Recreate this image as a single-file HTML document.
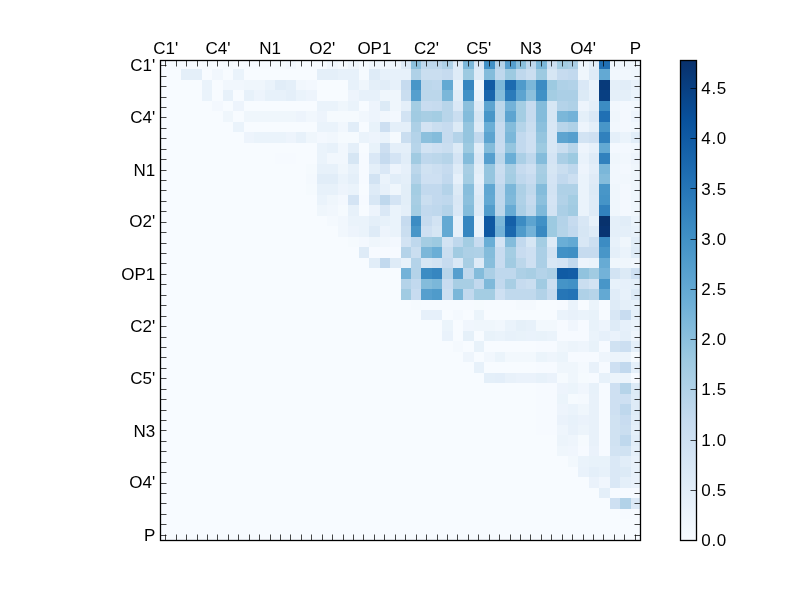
<!DOCTYPE html>
<html><head><meta charset="utf-8"><title>heatmap</title>
<style>
html,body{margin:0;padding:0;background:#fff;}
body{width:800px;height:600px;overflow:hidden;position:relative;font-family:"Liberation Sans",sans-serif;}
svg{position:absolute;left:0;top:0;display:block}
svg text{font-family:"Liberation Sans",sans-serif;font-size:17px;fill:#000}
</style></head><body>
<svg width="800" height="600" viewBox="0 0 800 600">
<defs><linearGradient id="cb" x1="0" y1="1" x2="0" y2="0">
<stop offset="0.0000" stop-color="#f7fbff"/>
<stop offset="0.1250" stop-color="#deebf7"/>
<stop offset="0.2500" stop-color="#c6dbef"/>
<stop offset="0.3750" stop-color="#9ecae1"/>
<stop offset="0.5000" stop-color="#6baed6"/>
<stop offset="0.6250" stop-color="#4292c6"/>
<stop offset="0.7500" stop-color="#2171b5"/>
<stop offset="0.8750" stop-color="#08519c"/>
<stop offset="1.0000" stop-color="#08306b"/>
</linearGradient></defs>
<rect x="0" y="0" width="800" height="600" fill="#ffffff"/>
<g shape-rendering="crispEdges">
<rect x="160" y="60" width="481" height="481" fill="#f7fbff"/>
<rect x="171" y="60" width="10" height="9" fill="#f5fafe"/>
<rect x="181" y="60" width="11" height="9" fill="#f6faff"/>
<rect x="202" y="60" width="10" height="9" fill="#f5fafe"/>
<rect x="223" y="60" width="10" height="9" fill="#f5fafe"/>
<rect x="244" y="60" width="31" height="9" fill="#f6faff"/>
<rect x="275" y="60" width="11" height="9" fill="#f5fafe"/>
<rect x="286" y="60" width="10" height="9" fill="#f3f8fe"/>
<rect x="327" y="60" width="11" height="9" fill="#f1f7fd"/>
<rect x="338" y="60" width="10" height="9" fill="#f5fafe"/>
<rect x="348" y="60" width="11" height="9" fill="#eff6fc"/>
<rect x="359" y="60" width="10" height="9" fill="#f5fafe"/>
<rect x="369" y="60" width="11" height="9" fill="#eff6fc"/>
<rect x="380" y="60" width="10" height="9" fill="#f1f7fd"/>
<rect x="390" y="60" width="11" height="9" fill="#eff6fc"/>
<rect x="401" y="60" width="10" height="9" fill="#deebf7"/>
<rect x="411" y="60" width="10" height="9" fill="#8cc0dd"/>
<rect x="421" y="60" width="21" height="9" fill="#bfd8ed"/>
<rect x="442" y="60" width="11" height="9" fill="#afd1e7"/>
<rect x="453" y="60" width="10" height="9" fill="#deebf7"/>
<rect x="463" y="60" width="11" height="9" fill="#7bb7d9"/>
<rect x="474" y="60" width="10" height="9" fill="#dae8f6"/>
<rect x="484" y="60" width="11" height="9" fill="#4191c6"/>
<rect x="495" y="60" width="10" height="9" fill="#b4d3e9"/>
<rect x="505" y="60" width="11" height="9" fill="#569fce"/>
<rect x="516" y="60" width="10" height="9" fill="#8cc0dd"/>
<rect x="526" y="60" width="10" height="9" fill="#bfd8ed"/>
<rect x="536" y="60" width="11" height="9" fill="#7bb7d9"/>
<rect x="547" y="60" width="10" height="9" fill="#cee0f2"/>
<rect x="557" y="60" width="11" height="9" fill="#a4cde3"/>
<rect x="568" y="60" width="10" height="9" fill="#abcfe6"/>
<rect x="578" y="60" width="11" height="9" fill="#eff6fc"/>
<rect x="589" y="60" width="10" height="9" fill="#e2eef8"/>
<rect x="599" y="60" width="11" height="9" fill="#2070b4"/>
<rect x="610" y="60" width="31" height="9" fill="#eff6fc"/>
<rect x="181" y="69" width="21" height="11" fill="#e4eff9"/>
<rect x="212" y="69" width="11" height="11" fill="#f1f7fd"/>
<rect x="233" y="69" width="11" height="11" fill="#eaf3fb"/>
<rect x="317" y="69" width="21" height="11" fill="#e4eff9"/>
<rect x="338" y="69" width="21" height="11" fill="#e7f1fa"/>
<rect x="359" y="69" width="10" height="11" fill="#f5fafe"/>
<rect x="369" y="69" width="11" height="11" fill="#deebf7"/>
<rect x="380" y="69" width="31" height="11" fill="#e7f1fa"/>
<rect x="411" y="69" width="10" height="11" fill="#afd1e7"/>
<rect x="421" y="69" width="21" height="11" fill="#cadef0"/>
<rect x="442" y="69" width="11" height="11" fill="#c6dbef"/>
<rect x="453" y="69" width="10" height="11" fill="#deebf7"/>
<rect x="463" y="69" width="11" height="11" fill="#9dcae1"/>
<rect x="474" y="69" width="10" height="11" fill="#deebf7"/>
<rect x="484" y="69" width="11" height="11" fill="#84bcdb"/>
<rect x="495" y="69" width="10" height="11" fill="#bfd8ed"/>
<rect x="505" y="69" width="11" height="11" fill="#9dcae1"/>
<rect x="516" y="69" width="10" height="11" fill="#bfd8ed"/>
<rect x="526" y="69" width="10" height="11" fill="#cadef0"/>
<rect x="536" y="69" width="11" height="11" fill="#9dcae1"/>
<rect x="547" y="69" width="10" height="11" fill="#d6e6f4"/>
<rect x="557" y="69" width="11" height="11" fill="#c6dbef"/>
<rect x="568" y="69" width="10" height="11" fill="#c2d9ee"/>
<rect x="578" y="69" width="11" height="11" fill="#eff6fc"/>
<rect x="589" y="69" width="10" height="11" fill="#deebf7"/>
<rect x="599" y="69" width="11" height="11" fill="#63a9d3"/>
<rect x="610" y="69" width="21" height="11" fill="#f1f7fd"/>
<rect x="631" y="69" width="10" height="11" fill="#eff6fc"/>
<rect x="202" y="80" width="10" height="10" fill="#eaf3fb"/>
<rect x="223" y="80" width="21" height="10" fill="#f1f7fd"/>
<rect x="244" y="80" width="21" height="10" fill="#eff6fc"/>
<rect x="265" y="80" width="10" height="10" fill="#eaf3fb"/>
<rect x="275" y="80" width="11" height="10" fill="#e1edf8"/>
<rect x="286" y="80" width="10" height="10" fill="#e4eff9"/>
<rect x="296" y="80" width="10" height="10" fill="#f1f7fd"/>
<rect x="306" y="80" width="11" height="10" fill="#f3f8fe"/>
<rect x="348" y="80" width="11" height="10" fill="#e7f1fa"/>
<rect x="359" y="80" width="10" height="10" fill="#eff6fc"/>
<rect x="369" y="80" width="11" height="10" fill="#e4eff9"/>
<rect x="380" y="80" width="10" height="10" fill="#e1edf8"/>
<rect x="390" y="80" width="11" height="10" fill="#e7f1fa"/>
<rect x="401" y="80" width="10" height="10" fill="#c6dbef"/>
<rect x="411" y="80" width="10" height="10" fill="#4896c8"/>
<rect x="421" y="80" width="11" height="10" fill="#bcd7eb"/>
<rect x="432" y="80" width="10" height="10" fill="#bfd8ed"/>
<rect x="442" y="80" width="11" height="10" fill="#63a9d3"/>
<rect x="453" y="80" width="10" height="10" fill="#e7f1fa"/>
<rect x="463" y="80" width="11" height="10" fill="#3686c0"/>
<rect x="474" y="80" width="10" height="10" fill="#eff6fc"/>
<rect x="484" y="80" width="11" height="10" fill="#105ba4"/>
<rect x="495" y="80" width="10" height="10" fill="#7bb7d9"/>
<rect x="505" y="80" width="11" height="10" fill="#1c6bb0"/>
<rect x="516" y="80" width="10" height="10" fill="#4f9bcb"/>
<rect x="526" y="80" width="10" height="10" fill="#7bb7d9"/>
<rect x="536" y="80" width="11" height="10" fill="#3c8cc3"/>
<rect x="547" y="80" width="10" height="10" fill="#9dcae1"/>
<rect x="557" y="80" width="11" height="10" fill="#afd1e7"/>
<rect x="568" y="80" width="10" height="10" fill="#b2d2e8"/>
<rect x="578" y="80" width="11" height="10" fill="#dae8f6"/>
<rect x="589" y="80" width="10" height="10" fill="#eaf3fb"/>
<rect x="599" y="80" width="11" height="10" fill="#083a7a"/>
<rect x="610" y="80" width="10" height="10" fill="#e4eff9"/>
<rect x="620" y="80" width="11" height="10" fill="#e1edf8"/>
<rect x="631" y="80" width="10" height="10" fill="#e7f1fa"/>
<rect x="202" y="90" width="10" height="11" fill="#eaf3fb"/>
<rect x="223" y="90" width="10" height="11" fill="#e7f1fa"/>
<rect x="244" y="90" width="10" height="11" fill="#e7f1fa"/>
<rect x="254" y="90" width="11" height="11" fill="#edf4fc"/>
<rect x="265" y="90" width="21" height="11" fill="#e7f1fa"/>
<rect x="286" y="90" width="10" height="11" fill="#e4eff9"/>
<rect x="296" y="90" width="10" height="11" fill="#eaf3fb"/>
<rect x="306" y="90" width="11" height="11" fill="#edf4fc"/>
<rect x="348" y="90" width="11" height="11" fill="#edf4fc"/>
<rect x="359" y="90" width="21" height="11" fill="#e7f1fa"/>
<rect x="380" y="90" width="21" height="11" fill="#eff6fc"/>
<rect x="401" y="90" width="10" height="11" fill="#cadef0"/>
<rect x="411" y="90" width="10" height="11" fill="#569fce"/>
<rect x="421" y="90" width="21" height="11" fill="#bcd7eb"/>
<rect x="442" y="90" width="11" height="11" fill="#7bb7d9"/>
<rect x="453" y="90" width="10" height="11" fill="#e1edf8"/>
<rect x="463" y="90" width="11" height="11" fill="#4191c6"/>
<rect x="474" y="90" width="10" height="11" fill="#eaf3fb"/>
<rect x="484" y="90" width="11" height="11" fill="#1865ac"/>
<rect x="495" y="90" width="10" height="11" fill="#84bcdb"/>
<rect x="505" y="90" width="11" height="11" fill="#2b7bba"/>
<rect x="516" y="90" width="10" height="11" fill="#5da4d0"/>
<rect x="526" y="90" width="10" height="11" fill="#8cc0dd"/>
<rect x="536" y="90" width="11" height="11" fill="#4191c6"/>
<rect x="547" y="90" width="10" height="11" fill="#a4cde3"/>
<rect x="557" y="90" width="21" height="11" fill="#abcfe6"/>
<rect x="578" y="90" width="11" height="11" fill="#dceaf6"/>
<rect x="589" y="90" width="10" height="11" fill="#e7f1fa"/>
<rect x="599" y="90" width="11" height="11" fill="#083f82"/>
<rect x="610" y="90" width="21" height="11" fill="#e4eff9"/>
<rect x="631" y="90" width="10" height="11" fill="#eaf3fb"/>
<rect x="212" y="101" width="11" height="10" fill="#f3f8fe"/>
<rect x="233" y="101" width="11" height="10" fill="#edf4fc"/>
<rect x="317" y="101" width="21" height="10" fill="#eaf3fb"/>
<rect x="338" y="101" width="10" height="10" fill="#eff6fc"/>
<rect x="348" y="101" width="11" height="10" fill="#eaf3fb"/>
<rect x="369" y="101" width="11" height="10" fill="#edf4fc"/>
<rect x="380" y="101" width="10" height="10" fill="#dceaf6"/>
<rect x="390" y="101" width="11" height="10" fill="#eff6fc"/>
<rect x="401" y="101" width="10" height="10" fill="#e4eff9"/>
<rect x="411" y="101" width="10" height="10" fill="#a4cde3"/>
<rect x="421" y="101" width="11" height="10" fill="#c8dcf0"/>
<rect x="432" y="101" width="10" height="10" fill="#c6dbef"/>
<rect x="442" y="101" width="11" height="10" fill="#b8d5ea"/>
<rect x="453" y="101" width="10" height="10" fill="#dae8f6"/>
<rect x="463" y="101" width="11" height="10" fill="#8cc0dd"/>
<rect x="474" y="101" width="10" height="10" fill="#deebf7"/>
<rect x="484" y="101" width="11" height="10" fill="#5da4d0"/>
<rect x="495" y="101" width="10" height="10" fill="#bcd7eb"/>
<rect x="505" y="101" width="11" height="10" fill="#73b2d8"/>
<rect x="516" y="101" width="10" height="10" fill="#a4cde3"/>
<rect x="526" y="101" width="10" height="10" fill="#c6dbef"/>
<rect x="536" y="101" width="11" height="10" fill="#84bcdb"/>
<rect x="547" y="101" width="10" height="10" fill="#d6e6f4"/>
<rect x="557" y="101" width="11" height="10" fill="#b4d3e9"/>
<rect x="568" y="101" width="10" height="10" fill="#afd1e7"/>
<rect x="578" y="101" width="11" height="10" fill="#edf4fc"/>
<rect x="589" y="101" width="10" height="10" fill="#e4eff9"/>
<rect x="599" y="101" width="11" height="10" fill="#3c8cc3"/>
<rect x="610" y="101" width="10" height="10" fill="#f1f7fd"/>
<rect x="620" y="101" width="11" height="10" fill="#f3f8fe"/>
<rect x="631" y="101" width="10" height="10" fill="#f1f7fd"/>
<rect x="223" y="111" width="10" height="11" fill="#eff6fc"/>
<rect x="244" y="111" width="52" height="11" fill="#eff6fc"/>
<rect x="296" y="111" width="10" height="11" fill="#edf4fc"/>
<rect x="306" y="111" width="11" height="11" fill="#f1f7fd"/>
<rect x="317" y="111" width="10" height="11" fill="#edf4fc"/>
<rect x="327" y="111" width="32" height="11" fill="#f5fafe"/>
<rect x="359" y="111" width="10" height="11" fill="#f1f7fd"/>
<rect x="369" y="111" width="11" height="11" fill="#edf4fc"/>
<rect x="380" y="111" width="10" height="11" fill="#f1f7fd"/>
<rect x="390" y="111" width="11" height="11" fill="#f3f8fe"/>
<rect x="401" y="111" width="10" height="11" fill="#d2e3f3"/>
<rect x="411" y="111" width="10" height="11" fill="#a1cbe2"/>
<rect x="421" y="111" width="11" height="11" fill="#a8cee4"/>
<rect x="432" y="111" width="10" height="11" fill="#a4cde3"/>
<rect x="442" y="111" width="11" height="11" fill="#b8d5ea"/>
<rect x="453" y="111" width="10" height="11" fill="#cadef0"/>
<rect x="463" y="111" width="11" height="11" fill="#84bcdb"/>
<rect x="474" y="111" width="10" height="11" fill="#d6e6f4"/>
<rect x="484" y="111" width="11" height="11" fill="#4896c8"/>
<rect x="495" y="111" width="10" height="11" fill="#bcd7eb"/>
<rect x="505" y="111" width="11" height="11" fill="#5da4d0"/>
<rect x="516" y="111" width="10" height="11" fill="#a4cde3"/>
<rect x="526" y="111" width="10" height="11" fill="#c6dbef"/>
<rect x="536" y="111" width="11" height="11" fill="#84bcdb"/>
<rect x="547" y="111" width="10" height="11" fill="#d6e6f4"/>
<rect x="557" y="111" width="11" height="11" fill="#7bb7d9"/>
<rect x="568" y="111" width="10" height="11" fill="#73b2d8"/>
<rect x="578" y="111" width="11" height="11" fill="#e4eff9"/>
<rect x="589" y="111" width="10" height="11" fill="#dae8f6"/>
<rect x="599" y="111" width="11" height="11" fill="#2070b4"/>
<rect x="610" y="111" width="10" height="11" fill="#eff6fc"/>
<rect x="620" y="111" width="11" height="11" fill="#f3f8fe"/>
<rect x="631" y="111" width="10" height="11" fill="#edf4fc"/>
<rect x="233" y="122" width="11" height="10" fill="#eaf3fb"/>
<rect x="317" y="122" width="21" height="10" fill="#eaf3fb"/>
<rect x="338" y="122" width="10" height="10" fill="#f1f7fd"/>
<rect x="348" y="122" width="11" height="10" fill="#e1edf8"/>
<rect x="369" y="122" width="11" height="10" fill="#e8f2fa"/>
<rect x="380" y="122" width="10" height="10" fill="#cddff1"/>
<rect x="390" y="122" width="21" height="10" fill="#e4eff9"/>
<rect x="411" y="122" width="10" height="10" fill="#add0e6"/>
<rect x="421" y="122" width="11" height="10" fill="#d3e3f3"/>
<rect x="432" y="122" width="10" height="10" fill="#cadef0"/>
<rect x="442" y="122" width="11" height="10" fill="#c6dbef"/>
<rect x="453" y="122" width="10" height="10" fill="#dceaf6"/>
<rect x="463" y="122" width="11" height="10" fill="#95c5df"/>
<rect x="474" y="122" width="10" height="10" fill="#deebf7"/>
<rect x="484" y="122" width="11" height="10" fill="#6aaed6"/>
<rect x="495" y="122" width="10" height="10" fill="#c6dbef"/>
<rect x="505" y="122" width="11" height="10" fill="#84bcdb"/>
<rect x="516" y="122" width="10" height="10" fill="#b5d4e9"/>
<rect x="526" y="122" width="10" height="10" fill="#cadef0"/>
<rect x="536" y="122" width="11" height="10" fill="#8cc0dd"/>
<rect x="547" y="122" width="10" height="10" fill="#d8e7f5"/>
<rect x="557" y="122" width="11" height="10" fill="#b8d5ea"/>
<rect x="568" y="122" width="10" height="10" fill="#afd1e7"/>
<rect x="578" y="122" width="11" height="10" fill="#edf4fc"/>
<rect x="589" y="122" width="10" height="10" fill="#e4eff9"/>
<rect x="599" y="122" width="11" height="10" fill="#4896c8"/>
<rect x="610" y="122" width="10" height="10" fill="#f1f7fd"/>
<rect x="620" y="122" width="11" height="10" fill="#f3f8fe"/>
<rect x="631" y="122" width="10" height="10" fill="#f1f7fd"/>
<rect x="244" y="132" width="10" height="11" fill="#edf4fc"/>
<rect x="254" y="132" width="32" height="11" fill="#eaf3fb"/>
<rect x="286" y="132" width="10" height="11" fill="#edf4fc"/>
<rect x="296" y="132" width="10" height="11" fill="#e7f1fa"/>
<rect x="306" y="132" width="11" height="11" fill="#eff6fc"/>
<rect x="317" y="132" width="10" height="11" fill="#f3f8fe"/>
<rect x="327" y="132" width="11" height="11" fill="#f1f7fd"/>
<rect x="338" y="132" width="21" height="11" fill="#f5fafe"/>
<rect x="359" y="132" width="10" height="11" fill="#eaf3fb"/>
<rect x="369" y="132" width="11" height="11" fill="#edf4fc"/>
<rect x="380" y="132" width="10" height="11" fill="#eaf3fb"/>
<rect x="390" y="132" width="11" height="11" fill="#f5fafe"/>
<rect x="401" y="132" width="10" height="11" fill="#cadef0"/>
<rect x="411" y="132" width="10" height="11" fill="#b4d3e9"/>
<rect x="421" y="132" width="11" height="11" fill="#8cc0dd"/>
<rect x="432" y="132" width="10" height="11" fill="#84bcdb"/>
<rect x="442" y="132" width="11" height="11" fill="#c6dbef"/>
<rect x="453" y="132" width="10" height="11" fill="#b4d3e9"/>
<rect x="463" y="132" width="11" height="11" fill="#95c5df"/>
<rect x="474" y="132" width="10" height="11" fill="#c2d9ee"/>
<rect x="484" y="132" width="11" height="11" fill="#5da4d0"/>
<rect x="495" y="132" width="10" height="11" fill="#c6dbef"/>
<rect x="505" y="132" width="11" height="11" fill="#7bb7d9"/>
<rect x="516" y="132" width="10" height="11" fill="#c2d9ee"/>
<rect x="526" y="132" width="10" height="11" fill="#cee0f2"/>
<rect x="536" y="132" width="11" height="11" fill="#95c5df"/>
<rect x="547" y="132" width="10" height="11" fill="#d8e7f5"/>
<rect x="557" y="132" width="11" height="11" fill="#5da4d0"/>
<rect x="568" y="132" width="10" height="11" fill="#569fce"/>
<rect x="578" y="132" width="11" height="11" fill="#d2e3f3"/>
<rect x="589" y="132" width="10" height="11" fill="#cee0f2"/>
<rect x="599" y="132" width="11" height="11" fill="#3181bd"/>
<rect x="610" y="132" width="10" height="11" fill="#e4eff9"/>
<rect x="620" y="132" width="11" height="11" fill="#eaf3fb"/>
<rect x="631" y="132" width="10" height="11" fill="#e1edf8"/>
<rect x="317" y="143" width="10" height="10" fill="#eaf3fb"/>
<rect x="327" y="143" width="11" height="10" fill="#e7f1fa"/>
<rect x="338" y="143" width="10" height="10" fill="#f1f7fd"/>
<rect x="348" y="143" width="11" height="10" fill="#e4eff9"/>
<rect x="369" y="143" width="11" height="10" fill="#e8f2fa"/>
<rect x="380" y="143" width="10" height="10" fill="#cddff1"/>
<rect x="390" y="143" width="21" height="10" fill="#e4eff9"/>
<rect x="411" y="143" width="10" height="10" fill="#b7d5ea"/>
<rect x="421" y="143" width="11" height="10" fill="#d2e3f3"/>
<rect x="432" y="143" width="10" height="10" fill="#cee0f2"/>
<rect x="442" y="143" width="11" height="10" fill="#cadef0"/>
<rect x="453" y="143" width="10" height="10" fill="#dceaf6"/>
<rect x="463" y="143" width="11" height="10" fill="#9dcae1"/>
<rect x="474" y="143" width="10" height="10" fill="#e1edf8"/>
<rect x="484" y="143" width="11" height="10" fill="#84bcdb"/>
<rect x="495" y="143" width="10" height="10" fill="#c8dcf0"/>
<rect x="505" y="143" width="11" height="10" fill="#95c5df"/>
<rect x="516" y="143" width="10" height="10" fill="#c2d9ee"/>
<rect x="526" y="143" width="10" height="10" fill="#cee0f2"/>
<rect x="536" y="143" width="11" height="10" fill="#9dcae1"/>
<rect x="547" y="143" width="10" height="10" fill="#d8e7f5"/>
<rect x="557" y="143" width="11" height="10" fill="#cadef0"/>
<rect x="568" y="143" width="10" height="10" fill="#b8d5ea"/>
<rect x="578" y="143" width="11" height="10" fill="#edf4fc"/>
<rect x="589" y="143" width="10" height="10" fill="#e6f0fa"/>
<rect x="599" y="143" width="11" height="10" fill="#63a9d3"/>
<rect x="610" y="143" width="21" height="10" fill="#f3f8fe"/>
<rect x="631" y="143" width="10" height="10" fill="#f1f7fd"/>
<rect x="275" y="153" width="21" height="11" fill="#f6faff"/>
<rect x="317" y="153" width="10" height="11" fill="#eaf3fb"/>
<rect x="327" y="153" width="21" height="11" fill="#f1f7fd"/>
<rect x="348" y="153" width="11" height="11" fill="#d6e6f4"/>
<rect x="359" y="153" width="10" height="11" fill="#f6faff"/>
<rect x="369" y="153" width="11" height="11" fill="#dae8f6"/>
<rect x="380" y="153" width="10" height="11" fill="#c6dbef"/>
<rect x="390" y="153" width="11" height="11" fill="#d4e4f4"/>
<rect x="401" y="153" width="10" height="11" fill="#e1edf8"/>
<rect x="411" y="153" width="10" height="11" fill="#a1cbe2"/>
<rect x="421" y="153" width="11" height="11" fill="#bfd8ed"/>
<rect x="432" y="153" width="10" height="11" fill="#bcd7eb"/>
<rect x="442" y="153" width="11" height="11" fill="#b6d4e9"/>
<rect x="453" y="153" width="10" height="11" fill="#d4e4f4"/>
<rect x="463" y="153" width="11" height="11" fill="#84bcdb"/>
<rect x="474" y="153" width="10" height="11" fill="#dae8f6"/>
<rect x="484" y="153" width="11" height="11" fill="#569fce"/>
<rect x="495" y="153" width="10" height="11" fill="#bcd7eb"/>
<rect x="505" y="153" width="11" height="11" fill="#6aaed6"/>
<rect x="516" y="153" width="10" height="11" fill="#abcfe6"/>
<rect x="526" y="153" width="10" height="11" fill="#bfd8ed"/>
<rect x="536" y="153" width="11" height="11" fill="#84bcdb"/>
<rect x="547" y="153" width="10" height="11" fill="#d4e4f4"/>
<rect x="557" y="153" width="11" height="11" fill="#abcfe6"/>
<rect x="568" y="153" width="10" height="11" fill="#9dcae1"/>
<rect x="578" y="153" width="11" height="11" fill="#e9f2fb"/>
<rect x="589" y="153" width="10" height="11" fill="#deebf7"/>
<rect x="599" y="153" width="11" height="11" fill="#3181bd"/>
<rect x="610" y="153" width="10" height="11" fill="#eff6fc"/>
<rect x="620" y="153" width="11" height="11" fill="#f1f7fd"/>
<rect x="631" y="153" width="10" height="11" fill="#edf4fc"/>
<rect x="306" y="164" width="11" height="10" fill="#f5fafe"/>
<rect x="317" y="164" width="21" height="10" fill="#e7f1fa"/>
<rect x="338" y="164" width="10" height="10" fill="#eff6fc"/>
<rect x="348" y="164" width="11" height="10" fill="#e7f1fa"/>
<rect x="359" y="164" width="10" height="10" fill="#f6faff"/>
<rect x="369" y="164" width="11" height="10" fill="#e4eff9"/>
<rect x="380" y="164" width="10" height="10" fill="#dae8f6"/>
<rect x="390" y="164" width="11" height="10" fill="#edf4fc"/>
<rect x="401" y="164" width="10" height="10" fill="#e6f0fa"/>
<rect x="411" y="164" width="10" height="10" fill="#bcd7eb"/>
<rect x="421" y="164" width="11" height="10" fill="#d0e2f2"/>
<rect x="432" y="164" width="10" height="10" fill="#ccdff1"/>
<rect x="442" y="164" width="11" height="10" fill="#c6dbef"/>
<rect x="453" y="164" width="10" height="10" fill="#deebf7"/>
<rect x="463" y="164" width="11" height="10" fill="#a8cee4"/>
<rect x="474" y="164" width="10" height="10" fill="#e2eef8"/>
<rect x="484" y="164" width="11" height="10" fill="#95c5df"/>
<rect x="495" y="164" width="10" height="10" fill="#cadef0"/>
<rect x="505" y="164" width="11" height="10" fill="#a8cee4"/>
<rect x="516" y="164" width="10" height="10" fill="#c6dbef"/>
<rect x="526" y="164" width="10" height="10" fill="#cee0f2"/>
<rect x="536" y="164" width="11" height="10" fill="#a8cee4"/>
<rect x="547" y="164" width="10" height="10" fill="#d6e6f4"/>
<rect x="557" y="164" width="11" height="10" fill="#cadef0"/>
<rect x="568" y="164" width="10" height="10" fill="#bfd8ed"/>
<rect x="578" y="164" width="11" height="10" fill="#edf4fc"/>
<rect x="589" y="164" width="10" height="10" fill="#e3eef9"/>
<rect x="599" y="164" width="11" height="10" fill="#7bb7d9"/>
<rect x="610" y="164" width="10" height="10" fill="#f1f7fd"/>
<rect x="620" y="164" width="11" height="10" fill="#f3f8fe"/>
<rect x="631" y="164" width="10" height="10" fill="#eff6fc"/>
<rect x="306" y="174" width="11" height="10" fill="#f4f9fe"/>
<rect x="317" y="174" width="21" height="10" fill="#e1edf8"/>
<rect x="338" y="174" width="10" height="10" fill="#eaf3fb"/>
<rect x="348" y="174" width="11" height="10" fill="#e4eff9"/>
<rect x="359" y="174" width="10" height="10" fill="#f6faff"/>
<rect x="369" y="174" width="11" height="10" fill="#d2e3f3"/>
<rect x="380" y="174" width="10" height="10" fill="#eaf3fb"/>
<rect x="390" y="174" width="11" height="10" fill="#e1edf8"/>
<rect x="401" y="174" width="10" height="10" fill="#e4eff9"/>
<rect x="411" y="174" width="10" height="10" fill="#b4d3e9"/>
<rect x="421" y="174" width="21" height="10" fill="#cee0f2"/>
<rect x="442" y="174" width="11" height="10" fill="#c2d9ee"/>
<rect x="453" y="174" width="10" height="10" fill="#e6f0fa"/>
<rect x="463" y="174" width="11" height="10" fill="#a4cde3"/>
<rect x="474" y="174" width="10" height="10" fill="#e6f0fa"/>
<rect x="484" y="174" width="11" height="10" fill="#95c5df"/>
<rect x="495" y="174" width="10" height="10" fill="#c8dcf0"/>
<rect x="505" y="174" width="11" height="10" fill="#a4cde3"/>
<rect x="516" y="174" width="10" height="10" fill="#bfd8ed"/>
<rect x="526" y="174" width="10" height="10" fill="#c8dcf0"/>
<rect x="536" y="174" width="11" height="10" fill="#a4cde3"/>
<rect x="547" y="174" width="10" height="10" fill="#d4e4f4"/>
<rect x="557" y="174" width="11" height="10" fill="#c2d9ee"/>
<rect x="568" y="174" width="10" height="10" fill="#ccdff1"/>
<rect x="578" y="174" width="11" height="10" fill="#eaf3fb"/>
<rect x="589" y="174" width="10" height="10" fill="#dfebf7"/>
<rect x="599" y="174" width="11" height="10" fill="#84bcdb"/>
<rect x="610" y="174" width="21" height="10" fill="#f1f7fd"/>
<rect x="631" y="174" width="10" height="10" fill="#eff6fc"/>
<rect x="306" y="184" width="11" height="11" fill="#f5fafe"/>
<rect x="317" y="184" width="21" height="11" fill="#e7f1fa"/>
<rect x="338" y="184" width="10" height="11" fill="#edf4fc"/>
<rect x="348" y="184" width="11" height="11" fill="#eaf3fb"/>
<rect x="369" y="184" width="11" height="11" fill="#deebf7"/>
<rect x="380" y="184" width="10" height="11" fill="#e7f1fa"/>
<rect x="390" y="184" width="11" height="11" fill="#eff6fc"/>
<rect x="401" y="184" width="10" height="11" fill="#e2eef8"/>
<rect x="411" y="184" width="10" height="11" fill="#a4cde3"/>
<rect x="421" y="184" width="21" height="11" fill="#c2d9ee"/>
<rect x="442" y="184" width="11" height="11" fill="#b4d3e9"/>
<rect x="453" y="184" width="10" height="11" fill="#dceaf6"/>
<rect x="463" y="184" width="11" height="11" fill="#88bedc"/>
<rect x="474" y="184" width="10" height="11" fill="#e0ecf8"/>
<rect x="484" y="184" width="11" height="11" fill="#60a7d2"/>
<rect x="495" y="184" width="10" height="11" fill="#bfd8ed"/>
<rect x="505" y="184" width="11" height="11" fill="#7bb7d9"/>
<rect x="516" y="184" width="10" height="11" fill="#add0e6"/>
<rect x="526" y="184" width="10" height="11" fill="#c0d9ed"/>
<rect x="536" y="184" width="11" height="11" fill="#84bcdb"/>
<rect x="547" y="184" width="10" height="11" fill="#d2e3f3"/>
<rect x="557" y="184" width="21" height="11" fill="#afd1e7"/>
<rect x="578" y="184" width="11" height="11" fill="#eaf3fb"/>
<rect x="589" y="184" width="10" height="11" fill="#dceaf6"/>
<rect x="599" y="184" width="11" height="11" fill="#4896c8"/>
<rect x="610" y="184" width="10" height="11" fill="#eff6fc"/>
<rect x="620" y="184" width="11" height="11" fill="#f3f8fe"/>
<rect x="631" y="184" width="10" height="11" fill="#eff6fc"/>
<rect x="317" y="195" width="10" height="10" fill="#eaf3fb"/>
<rect x="327" y="195" width="11" height="10" fill="#eff6fc"/>
<rect x="338" y="195" width="10" height="10" fill="#f3f8fe"/>
<rect x="348" y="195" width="11" height="10" fill="#d4e4f4"/>
<rect x="359" y="195" width="10" height="10" fill="#f6faff"/>
<rect x="369" y="195" width="11" height="10" fill="#d8e7f5"/>
<rect x="380" y="195" width="10" height="10" fill="#bfd8ed"/>
<rect x="390" y="195" width="11" height="10" fill="#d4e4f4"/>
<rect x="401" y="195" width="10" height="10" fill="#e2eef8"/>
<rect x="411" y="195" width="10" height="10" fill="#a8cee4"/>
<rect x="421" y="195" width="11" height="10" fill="#cadef0"/>
<rect x="432" y="195" width="10" height="10" fill="#c2d9ee"/>
<rect x="442" y="195" width="11" height="10" fill="#bfd8ed"/>
<rect x="453" y="195" width="10" height="10" fill="#d8e7f5"/>
<rect x="463" y="195" width="11" height="10" fill="#8cc0dd"/>
<rect x="474" y="195" width="10" height="10" fill="#dceaf6"/>
<rect x="484" y="195" width="11" height="10" fill="#63a9d3"/>
<rect x="495" y="195" width="10" height="10" fill="#bfd8ed"/>
<rect x="505" y="195" width="11" height="10" fill="#7fb9da"/>
<rect x="516" y="195" width="10" height="10" fill="#afd1e7"/>
<rect x="526" y="195" width="10" height="10" fill="#c6dbef"/>
<rect x="536" y="195" width="11" height="10" fill="#8cc0dd"/>
<rect x="547" y="195" width="10" height="10" fill="#d4e4f4"/>
<rect x="557" y="195" width="11" height="10" fill="#b2d2e8"/>
<rect x="568" y="195" width="10" height="10" fill="#a4cde3"/>
<rect x="578" y="195" width="11" height="10" fill="#eaf3fb"/>
<rect x="589" y="195" width="10" height="10" fill="#deebf7"/>
<rect x="599" y="195" width="11" height="10" fill="#4594c7"/>
<rect x="610" y="195" width="10" height="10" fill="#eff6fc"/>
<rect x="620" y="195" width="11" height="10" fill="#f3f8fe"/>
<rect x="631" y="195" width="10" height="10" fill="#eff6fc"/>
<rect x="317" y="205" width="10" height="11" fill="#eff6fc"/>
<rect x="327" y="205" width="11" height="11" fill="#f1f7fd"/>
<rect x="338" y="205" width="10" height="11" fill="#f5fafe"/>
<rect x="348" y="205" width="11" height="11" fill="#e7f1fa"/>
<rect x="369" y="205" width="11" height="11" fill="#edf4fc"/>
<rect x="380" y="205" width="10" height="11" fill="#dae8f6"/>
<rect x="390" y="205" width="11" height="11" fill="#eaf3fb"/>
<rect x="401" y="205" width="10" height="11" fill="#e4eff9"/>
<rect x="411" y="205" width="10" height="11" fill="#a4cde3"/>
<rect x="421" y="205" width="11" height="11" fill="#c2d9ee"/>
<rect x="432" y="205" width="10" height="11" fill="#bfd8ed"/>
<rect x="442" y="205" width="11" height="11" fill="#b4d3e9"/>
<rect x="453" y="205" width="10" height="11" fill="#dae8f6"/>
<rect x="463" y="205" width="11" height="11" fill="#84bcdb"/>
<rect x="474" y="205" width="10" height="11" fill="#deebf7"/>
<rect x="484" y="205" width="11" height="11" fill="#529dcc"/>
<rect x="495" y="205" width="10" height="11" fill="#bcd7eb"/>
<rect x="505" y="205" width="11" height="11" fill="#67abd4"/>
<rect x="516" y="205" width="10" height="11" fill="#abcfe6"/>
<rect x="526" y="205" width="10" height="11" fill="#c0d9ed"/>
<rect x="536" y="205" width="11" height="11" fill="#7fb9da"/>
<rect x="547" y="205" width="10" height="11" fill="#d2e3f3"/>
<rect x="557" y="205" width="11" height="11" fill="#abcfe6"/>
<rect x="568" y="205" width="10" height="11" fill="#a1cbe2"/>
<rect x="578" y="205" width="11" height="11" fill="#eaf3fb"/>
<rect x="589" y="205" width="10" height="11" fill="#deebf7"/>
<rect x="599" y="205" width="11" height="11" fill="#3181bd"/>
<rect x="610" y="205" width="10" height="11" fill="#eff6fc"/>
<rect x="620" y="205" width="11" height="11" fill="#f3f8fe"/>
<rect x="631" y="205" width="10" height="11" fill="#eff6fc"/>
<rect x="327" y="216" width="11" height="10" fill="#f4f9fe"/>
<rect x="338" y="216" width="10" height="10" fill="#f1f7fd"/>
<rect x="348" y="216" width="21" height="10" fill="#eaf3fb"/>
<rect x="369" y="216" width="11" height="10" fill="#e4eff9"/>
<rect x="380" y="216" width="10" height="10" fill="#e7f1fa"/>
<rect x="390" y="216" width="11" height="10" fill="#eaf3fb"/>
<rect x="401" y="216" width="10" height="10" fill="#c6dbef"/>
<rect x="411" y="216" width="10" height="10" fill="#3c8cc3"/>
<rect x="421" y="216" width="11" height="10" fill="#c6dbef"/>
<rect x="432" y="216" width="10" height="10" fill="#d2e3f3"/>
<rect x="442" y="216" width="11" height="10" fill="#63a9d3"/>
<rect x="453" y="216" width="10" height="10" fill="#e6f0fa"/>
<rect x="463" y="216" width="11" height="10" fill="#3686c0"/>
<rect x="474" y="216" width="10" height="10" fill="#eaf3fb"/>
<rect x="484" y="216" width="11" height="10" fill="#0e58a2"/>
<rect x="495" y="216" width="10" height="10" fill="#7bb7d9"/>
<rect x="505" y="216" width="11" height="10" fill="#1460a8"/>
<rect x="516" y="216" width="10" height="10" fill="#3c8cc3"/>
<rect x="526" y="216" width="10" height="10" fill="#5da4d0"/>
<rect x="536" y="216" width="11" height="10" fill="#4191c6"/>
<rect x="547" y="216" width="10" height="10" fill="#9dcae1"/>
<rect x="557" y="216" width="11" height="10" fill="#b4d3e9"/>
<rect x="568" y="216" width="10" height="10" fill="#c6dbef"/>
<rect x="578" y="216" width="11" height="10" fill="#d8e7f5"/>
<rect x="589" y="216" width="10" height="10" fill="#e7f1fa"/>
<rect x="599" y="216" width="11" height="10" fill="#08326d"/>
<rect x="610" y="216" width="10" height="10" fill="#e4eff9"/>
<rect x="620" y="216" width="11" height="10" fill="#e1edf8"/>
<rect x="631" y="216" width="10" height="10" fill="#eaf3fb"/>
<rect x="338" y="226" width="10" height="11" fill="#f1f7fd"/>
<rect x="348" y="226" width="11" height="11" fill="#edf4fc"/>
<rect x="359" y="226" width="10" height="11" fill="#eaf3fb"/>
<rect x="369" y="226" width="11" height="11" fill="#deebf7"/>
<rect x="380" y="226" width="10" height="11" fill="#edf4fc"/>
<rect x="390" y="226" width="11" height="11" fill="#eaf3fb"/>
<rect x="401" y="226" width="10" height="11" fill="#cadef0"/>
<rect x="411" y="226" width="10" height="11" fill="#4896c8"/>
<rect x="421" y="226" width="11" height="11" fill="#cee0f2"/>
<rect x="432" y="226" width="10" height="11" fill="#d6e6f4"/>
<rect x="442" y="226" width="11" height="11" fill="#63a9d3"/>
<rect x="453" y="226" width="10" height="11" fill="#e6f0fa"/>
<rect x="463" y="226" width="11" height="11" fill="#3686c0"/>
<rect x="474" y="226" width="10" height="11" fill="#eaf3fb"/>
<rect x="484" y="226" width="11" height="11" fill="#0e58a2"/>
<rect x="495" y="226" width="10" height="11" fill="#73b2d8"/>
<rect x="505" y="226" width="11" height="11" fill="#1a68ae"/>
<rect x="516" y="226" width="10" height="11" fill="#4f9bcb"/>
<rect x="526" y="226" width="10" height="11" fill="#73b2d8"/>
<rect x="536" y="226" width="11" height="11" fill="#3989c1"/>
<rect x="547" y="226" width="10" height="11" fill="#9dcae1"/>
<rect x="557" y="226" width="11" height="11" fill="#b5d4e9"/>
<rect x="568" y="226" width="10" height="11" fill="#c2d9ee"/>
<rect x="578" y="226" width="11" height="11" fill="#d6e6f4"/>
<rect x="589" y="226" width="10" height="11" fill="#deebf7"/>
<rect x="599" y="226" width="11" height="11" fill="#083472"/>
<rect x="610" y="226" width="21" height="11" fill="#e4eff9"/>
<rect x="631" y="226" width="10" height="11" fill="#e7f1fa"/>
<rect x="348" y="237" width="11" height="10" fill="#f5fafe"/>
<rect x="359" y="237" width="10" height="10" fill="#f3f8fe"/>
<rect x="369" y="237" width="11" height="10" fill="#eff6fc"/>
<rect x="380" y="237" width="10" height="10" fill="#f1f7fd"/>
<rect x="390" y="237" width="11" height="10" fill="#f3f8fe"/>
<rect x="401" y="237" width="10" height="10" fill="#d2e3f3"/>
<rect x="411" y="237" width="10" height="10" fill="#bfd8ed"/>
<rect x="421" y="237" width="11" height="10" fill="#a4cde3"/>
<rect x="432" y="237" width="10" height="10" fill="#9dcae1"/>
<rect x="442" y="237" width="11" height="10" fill="#d2e3f3"/>
<rect x="453" y="237" width="10" height="10" fill="#bfd8ed"/>
<rect x="463" y="237" width="11" height="10" fill="#a4cde3"/>
<rect x="474" y="237" width="10" height="10" fill="#c8dcf0"/>
<rect x="484" y="237" width="11" height="10" fill="#6aaed6"/>
<rect x="495" y="237" width="10" height="10" fill="#d4e4f4"/>
<rect x="505" y="237" width="11" height="10" fill="#84bcdb"/>
<rect x="516" y="237" width="10" height="10" fill="#c2d9ee"/>
<rect x="526" y="237" width="10" height="10" fill="#d6e6f4"/>
<rect x="536" y="237" width="11" height="10" fill="#a4cde3"/>
<rect x="547" y="237" width="10" height="10" fill="#deebf7"/>
<rect x="557" y="237" width="11" height="10" fill="#6aaed6"/>
<rect x="568" y="237" width="10" height="10" fill="#63a9d3"/>
<rect x="578" y="237" width="11" height="10" fill="#d8e7f5"/>
<rect x="589" y="237" width="10" height="10" fill="#ccdff1"/>
<rect x="599" y="237" width="11" height="10" fill="#3c8cc3"/>
<rect x="610" y="237" width="10" height="10" fill="#e7f1fa"/>
<rect x="620" y="237" width="11" height="10" fill="#eff6fc"/>
<rect x="631" y="237" width="10" height="10" fill="#e1edf8"/>
<rect x="359" y="247" width="10" height="11" fill="#deebf7"/>
<rect x="369" y="247" width="32" height="11" fill="#f6faff"/>
<rect x="401" y="247" width="10" height="11" fill="#b4d3e9"/>
<rect x="411" y="247" width="10" height="11" fill="#cadef0"/>
<rect x="421" y="247" width="11" height="11" fill="#7bb7d9"/>
<rect x="432" y="247" width="10" height="11" fill="#6aaed6"/>
<rect x="442" y="247" width="11" height="11" fill="#cadef0"/>
<rect x="453" y="247" width="10" height="11" fill="#a1cbe2"/>
<rect x="463" y="247" width="11" height="11" fill="#add0e6"/>
<rect x="474" y="247" width="10" height="11" fill="#afd1e7"/>
<rect x="484" y="247" width="11" height="11" fill="#84bcdb"/>
<rect x="495" y="247" width="10" height="11" fill="#c8dcf0"/>
<rect x="505" y="247" width="11" height="11" fill="#a4cde3"/>
<rect x="516" y="247" width="10" height="11" fill="#c8dcf0"/>
<rect x="526" y="247" width="10" height="11" fill="#cee0f2"/>
<rect x="536" y="247" width="11" height="11" fill="#abcfe6"/>
<rect x="547" y="247" width="10" height="11" fill="#d2e3f3"/>
<rect x="557" y="247" width="11" height="11" fill="#4191c6"/>
<rect x="568" y="247" width="10" height="11" fill="#3f8fc4"/>
<rect x="578" y="247" width="21" height="11" fill="#c6dbef"/>
<rect x="599" y="247" width="11" height="11" fill="#4896c8"/>
<rect x="610" y="247" width="10" height="11" fill="#e4eff9"/>
<rect x="620" y="247" width="11" height="11" fill="#eaf3fb"/>
<rect x="631" y="247" width="10" height="11" fill="#deebf7"/>
<rect x="369" y="258" width="11" height="10" fill="#e1edf8"/>
<rect x="380" y="258" width="10" height="10" fill="#c2d9ee"/>
<rect x="390" y="258" width="11" height="10" fill="#deebf7"/>
<rect x="401" y="258" width="10" height="10" fill="#e7f1fa"/>
<rect x="411" y="258" width="10" height="10" fill="#b4d3e9"/>
<rect x="421" y="258" width="11" height="10" fill="#d6e6f4"/>
<rect x="432" y="258" width="10" height="10" fill="#d2e3f3"/>
<rect x="442" y="258" width="11" height="10" fill="#c6dbef"/>
<rect x="453" y="258" width="10" height="10" fill="#dae8f6"/>
<rect x="463" y="258" width="11" height="10" fill="#a8cee4"/>
<rect x="474" y="258" width="10" height="10" fill="#deebf7"/>
<rect x="484" y="258" width="11" height="10" fill="#88bedc"/>
<rect x="495" y="258" width="10" height="10" fill="#c8dcf0"/>
<rect x="505" y="258" width="11" height="10" fill="#a1cbe2"/>
<rect x="516" y="258" width="10" height="10" fill="#bcd7eb"/>
<rect x="526" y="258" width="10" height="10" fill="#cee0f2"/>
<rect x="536" y="258" width="11" height="10" fill="#abcfe6"/>
<rect x="547" y="258" width="10" height="10" fill="#d8e7f5"/>
<rect x="557" y="258" width="11" height="10" fill="#d4e4f4"/>
<rect x="568" y="258" width="10" height="10" fill="#c2d9ee"/>
<rect x="578" y="258" width="11" height="10" fill="#edf4fc"/>
<rect x="589" y="258" width="10" height="10" fill="#eaf3fb"/>
<rect x="599" y="258" width="11" height="10" fill="#67abd4"/>
<rect x="610" y="258" width="21" height="10" fill="#eff6fc"/>
<rect x="631" y="258" width="10" height="10" fill="#f1f7fd"/>
<rect x="401" y="268" width="10" height="11" fill="#73b2d8"/>
<rect x="411" y="268" width="10" height="11" fill="#b4d3e9"/>
<rect x="421" y="268" width="11" height="11" fill="#3c8cc3"/>
<rect x="432" y="268" width="10" height="11" fill="#3686c0"/>
<rect x="442" y="268" width="11" height="11" fill="#b8d5ea"/>
<rect x="453" y="268" width="10" height="11" fill="#569fce"/>
<rect x="463" y="268" width="11" height="11" fill="#bfd8ed"/>
<rect x="474" y="268" width="10" height="11" fill="#84bcdb"/>
<rect x="484" y="268" width="11" height="11" fill="#abcfe6"/>
<rect x="495" y="268" width="21" height="11" fill="#bfd8ed"/>
<rect x="516" y="268" width="10" height="11" fill="#add0e6"/>
<rect x="526" y="268" width="10" height="11" fill="#a8cee4"/>
<rect x="536" y="268" width="11" height="11" fill="#b4d3e9"/>
<rect x="547" y="268" width="10" height="11" fill="#add0e6"/>
<rect x="557" y="268" width="11" height="11" fill="#105ba4"/>
<rect x="568" y="268" width="10" height="11" fill="#125da6"/>
<rect x="578" y="268" width="11" height="11" fill="#91c3de"/>
<rect x="589" y="268" width="10" height="11" fill="#a1cbe2"/>
<rect x="599" y="268" width="11" height="11" fill="#73b2d8"/>
<rect x="610" y="268" width="10" height="11" fill="#d2e3f3"/>
<rect x="620" y="268" width="11" height="11" fill="#dceaf6"/>
<rect x="631" y="268" width="10" height="11" fill="#cee0f2"/>
<rect x="401" y="279" width="10" height="10" fill="#b4d3e9"/>
<rect x="411" y="279" width="10" height="10" fill="#c2d9ee"/>
<rect x="421" y="279" width="11" height="10" fill="#84bcdb"/>
<rect x="432" y="279" width="10" height="10" fill="#7bb7d9"/>
<rect x="442" y="279" width="11" height="10" fill="#c8dcf0"/>
<rect x="453" y="279" width="21" height="10" fill="#a8cee4"/>
<rect x="474" y="279" width="10" height="10" fill="#c2d9ee"/>
<rect x="484" y="279" width="11" height="10" fill="#7fb9da"/>
<rect x="495" y="279" width="10" height="10" fill="#c2d9ee"/>
<rect x="505" y="279" width="11" height="10" fill="#a8cee4"/>
<rect x="516" y="279" width="10" height="10" fill="#c6dbef"/>
<rect x="526" y="279" width="10" height="10" fill="#cadef0"/>
<rect x="536" y="279" width="11" height="10" fill="#a1cbe2"/>
<rect x="547" y="279" width="10" height="10" fill="#ccdff1"/>
<rect x="557" y="279" width="11" height="10" fill="#4594c7"/>
<rect x="568" y="279" width="10" height="10" fill="#4191c6"/>
<rect x="578" y="279" width="11" height="10" fill="#cadef0"/>
<rect x="589" y="279" width="10" height="10" fill="#d2e3f3"/>
<rect x="599" y="279" width="11" height="10" fill="#4896c8"/>
<rect x="610" y="279" width="10" height="10" fill="#e7f1fa"/>
<rect x="620" y="279" width="11" height="10" fill="#e6f0fa"/>
<rect x="631" y="279" width="10" height="10" fill="#e4eff9"/>
<rect x="401" y="289" width="10" height="11" fill="#a1cbe2"/>
<rect x="411" y="289" width="10" height="11" fill="#c8dcf0"/>
<rect x="421" y="289" width="11" height="11" fill="#569fce"/>
<rect x="432" y="289" width="10" height="11" fill="#4f9bcb"/>
<rect x="442" y="289" width="11" height="11" fill="#ccdff1"/>
<rect x="453" y="289" width="10" height="11" fill="#7bb7d9"/>
<rect x="463" y="289" width="11" height="11" fill="#c2d9ee"/>
<rect x="474" y="289" width="21" height="11" fill="#a4cde3"/>
<rect x="495" y="289" width="10" height="11" fill="#cee0f2"/>
<rect x="505" y="289" width="31" height="11" fill="#c0d9ed"/>
<rect x="536" y="289" width="11" height="11" fill="#b2d2e8"/>
<rect x="547" y="289" width="10" height="11" fill="#c6dbef"/>
<rect x="557" y="289" width="11" height="11" fill="#2676b7"/>
<rect x="568" y="289" width="10" height="11" fill="#2373b6"/>
<rect x="578" y="289" width="11" height="11" fill="#afd1e7"/>
<rect x="589" y="289" width="10" height="11" fill="#b6d4e9"/>
<rect x="599" y="289" width="11" height="11" fill="#63a9d3"/>
<rect x="610" y="289" width="10" height="11" fill="#e0ecf8"/>
<rect x="620" y="289" width="11" height="11" fill="#e7f1fa"/>
<rect x="631" y="289" width="10" height="11" fill="#dceaf6"/>
<rect x="411" y="300" width="10" height="10" fill="#f5fafe"/>
<rect x="421" y="300" width="53" height="10" fill="#f6faff"/>
<rect x="474" y="300" width="10" height="10" fill="#f5fafe"/>
<rect x="484" y="300" width="32" height="10" fill="#f6faff"/>
<rect x="516" y="300" width="20" height="10" fill="#f4f9fe"/>
<rect x="557" y="300" width="11" height="10" fill="#f6faff"/>
<rect x="568" y="300" width="10" height="10" fill="#eaf3fb"/>
<rect x="589" y="300" width="10" height="10" fill="#ebf4fb"/>
<rect x="599" y="300" width="11" height="10" fill="#f6faff"/>
<rect x="610" y="300" width="10" height="10" fill="#deebf7"/>
<rect x="620" y="300" width="11" height="10" fill="#e4eff9"/>
<rect x="631" y="300" width="10" height="10" fill="#e7f1fa"/>
<rect x="421" y="310" width="21" height="10" fill="#e6f0fa"/>
<rect x="453" y="310" width="10" height="10" fill="#f4f9fe"/>
<rect x="474" y="310" width="10" height="10" fill="#ebf4fb"/>
<rect x="557" y="310" width="11" height="10" fill="#eaf3fb"/>
<rect x="568" y="310" width="10" height="10" fill="#e8f1fa"/>
<rect x="578" y="310" width="11" height="10" fill="#eaf3fb"/>
<rect x="589" y="310" width="10" height="10" fill="#e8f2fa"/>
<rect x="599" y="310" width="11" height="10" fill="#f6faff"/>
<rect x="610" y="310" width="10" height="10" fill="#d8e7f5"/>
<rect x="620" y="310" width="11" height="10" fill="#c8dcf0"/>
<rect x="631" y="310" width="10" height="10" fill="#e4eff9"/>
<rect x="442" y="320" width="11" height="11" fill="#ebf4fb"/>
<rect x="463" y="320" width="11" height="11" fill="#f0f6fd"/>
<rect x="474" y="320" width="21" height="11" fill="#eff6fc"/>
<rect x="495" y="320" width="10" height="11" fill="#f1f7fd"/>
<rect x="505" y="320" width="11" height="11" fill="#eaf3fb"/>
<rect x="516" y="320" width="10" height="11" fill="#e5f0f9"/>
<rect x="526" y="320" width="10" height="11" fill="#e7f1fa"/>
<rect x="536" y="320" width="21" height="11" fill="#f2f8fd"/>
<rect x="557" y="320" width="11" height="11" fill="#f6faff"/>
<rect x="568" y="320" width="10" height="11" fill="#f0f6fd"/>
<rect x="578" y="320" width="11" height="11" fill="#f6faff"/>
<rect x="589" y="320" width="10" height="11" fill="#e8f2fa"/>
<rect x="599" y="320" width="11" height="11" fill="#edf4fc"/>
<rect x="610" y="320" width="10" height="11" fill="#deebf7"/>
<rect x="620" y="320" width="11" height="11" fill="#e6f0fa"/>
<rect x="631" y="320" width="10" height="11" fill="#eaf3fb"/>
<rect x="442" y="331" width="11" height="10" fill="#e9f2fb"/>
<rect x="463" y="331" width="11" height="10" fill="#e5f0f9"/>
<rect x="484" y="331" width="11" height="10" fill="#e8f2fa"/>
<rect x="495" y="331" width="10" height="10" fill="#eaf3fb"/>
<rect x="505" y="331" width="11" height="10" fill="#e7f1fa"/>
<rect x="516" y="331" width="10" height="10" fill="#e8f2fa"/>
<rect x="526" y="331" width="10" height="10" fill="#e9f2fb"/>
<rect x="536" y="331" width="11" height="10" fill="#e8f2fa"/>
<rect x="547" y="331" width="10" height="10" fill="#eaf3fb"/>
<rect x="557" y="331" width="32" height="10" fill="#f6faff"/>
<rect x="589" y="331" width="10" height="10" fill="#eaf3fb"/>
<rect x="599" y="331" width="11" height="10" fill="#e6f0fa"/>
<rect x="610" y="331" width="10" height="10" fill="#eaf2fb"/>
<rect x="620" y="331" width="11" height="10" fill="#e4eff9"/>
<rect x="631" y="331" width="10" height="10" fill="#eef5fc"/>
<rect x="453" y="341" width="10" height="11" fill="#f4f9fe"/>
<rect x="474" y="341" width="10" height="11" fill="#e8f2fa"/>
<rect x="536" y="341" width="21" height="11" fill="#f6faff"/>
<rect x="557" y="341" width="11" height="11" fill="#eff6fc"/>
<rect x="568" y="341" width="10" height="11" fill="#ecf4fb"/>
<rect x="578" y="341" width="11" height="11" fill="#eef5fc"/>
<rect x="589" y="341" width="10" height="11" fill="#e8f2fa"/>
<rect x="599" y="341" width="11" height="11" fill="#f6faff"/>
<rect x="610" y="341" width="10" height="11" fill="#d0e2f2"/>
<rect x="620" y="341" width="11" height="11" fill="#ccdff1"/>
<rect x="631" y="341" width="10" height="11" fill="#e4eff9"/>
<rect x="463" y="352" width="11" height="10" fill="#eef5fc"/>
<rect x="484" y="352" width="11" height="10" fill="#f1f7fd"/>
<rect x="495" y="352" width="10" height="10" fill="#ebf4fb"/>
<rect x="505" y="352" width="31" height="10" fill="#f2f8fd"/>
<rect x="536" y="352" width="11" height="10" fill="#ebf4fb"/>
<rect x="547" y="352" width="10" height="10" fill="#eef5fc"/>
<rect x="557" y="352" width="11" height="10" fill="#ebf4fb"/>
<rect x="568" y="352" width="31" height="10" fill="#f6faff"/>
<rect x="599" y="352" width="11" height="10" fill="#eef5fc"/>
<rect x="610" y="352" width="21" height="10" fill="#ecf4fb"/>
<rect x="631" y="352" width="10" height="10" fill="#f5fafe"/>
<rect x="474" y="362" width="10" height="11" fill="#e7f1fa"/>
<rect x="536" y="362" width="21" height="11" fill="#f6faff"/>
<rect x="557" y="362" width="21" height="11" fill="#eff6fc"/>
<rect x="578" y="362" width="11" height="11" fill="#f4f9fe"/>
<rect x="589" y="362" width="10" height="11" fill="#e8f1fa"/>
<rect x="599" y="362" width="11" height="11" fill="#f6faff"/>
<rect x="610" y="362" width="10" height="11" fill="#cee0f2"/>
<rect x="620" y="362" width="11" height="11" fill="#c2d9ee"/>
<rect x="631" y="362" width="10" height="11" fill="#e4eff9"/>
<rect x="484" y="373" width="11" height="10" fill="#e4eff9"/>
<rect x="495" y="373" width="10" height="10" fill="#e3eef9"/>
<rect x="505" y="373" width="11" height="10" fill="#e8f1fa"/>
<rect x="516" y="373" width="20" height="10" fill="#eaf2fb"/>
<rect x="536" y="373" width="11" height="10" fill="#e7f1fa"/>
<rect x="547" y="373" width="10" height="10" fill="#eaf2fb"/>
<rect x="557" y="373" width="11" height="10" fill="#f5fafe"/>
<rect x="568" y="373" width="10" height="10" fill="#eff6fc"/>
<rect x="578" y="373" width="11" height="10" fill="#f5fafe"/>
<rect x="589" y="373" width="10" height="10" fill="#f6faff"/>
<rect x="599" y="373" width="11" height="10" fill="#e7f1fa"/>
<rect x="610" y="373" width="21" height="10" fill="#ecf4fb"/>
<rect x="631" y="373" width="10" height="10" fill="#f6faff"/>
<rect x="536" y="383" width="21" height="11" fill="#f6faff"/>
<rect x="557" y="383" width="11" height="11" fill="#edf4fc"/>
<rect x="568" y="383" width="10" height="11" fill="#ebf4fb"/>
<rect x="578" y="383" width="11" height="11" fill="#f0f6fd"/>
<rect x="589" y="383" width="10" height="11" fill="#e7f1fa"/>
<rect x="599" y="383" width="11" height="11" fill="#f6faff"/>
<rect x="610" y="383" width="10" height="11" fill="#cee0f2"/>
<rect x="620" y="383" width="11" height="11" fill="#b6d4e9"/>
<rect x="631" y="383" width="10" height="11" fill="#dceaf6"/>
<rect x="536" y="394" width="21" height="10" fill="#f6faff"/>
<rect x="557" y="394" width="11" height="10" fill="#ebf4fb"/>
<rect x="568" y="394" width="10" height="10" fill="#f5fafe"/>
<rect x="578" y="394" width="11" height="10" fill="#f4f9fe"/>
<rect x="589" y="394" width="10" height="10" fill="#e8f1fa"/>
<rect x="599" y="394" width="11" height="10" fill="#f6faff"/>
<rect x="610" y="394" width="21" height="10" fill="#cee0f2"/>
<rect x="631" y="394" width="10" height="10" fill="#deebf7"/>
<rect x="536" y="404" width="21" height="11" fill="#f6faff"/>
<rect x="557" y="404" width="11" height="11" fill="#edf4fc"/>
<rect x="568" y="404" width="10" height="11" fill="#eaf3fb"/>
<rect x="578" y="404" width="11" height="11" fill="#eff6fc"/>
<rect x="589" y="404" width="10" height="11" fill="#e8f1fa"/>
<rect x="599" y="404" width="11" height="11" fill="#f6faff"/>
<rect x="610" y="404" width="10" height="11" fill="#cee0f2"/>
<rect x="620" y="404" width="11" height="11" fill="#bfd8ed"/>
<rect x="631" y="404" width="10" height="11" fill="#deebf7"/>
<rect x="536" y="415" width="21" height="10" fill="#f6faff"/>
<rect x="557" y="415" width="11" height="10" fill="#eaf2fb"/>
<rect x="568" y="415" width="10" height="10" fill="#e7f1fa"/>
<rect x="578" y="415" width="11" height="10" fill="#eaf2fb"/>
<rect x="589" y="415" width="10" height="10" fill="#e8f1fa"/>
<rect x="599" y="415" width="11" height="10" fill="#f6faff"/>
<rect x="610" y="415" width="10" height="10" fill="#d0e2f2"/>
<rect x="620" y="415" width="11" height="10" fill="#c8dcf0"/>
<rect x="631" y="415" width="10" height="10" fill="#e1edf8"/>
<rect x="536" y="425" width="21" height="10" fill="#f6faff"/>
<rect x="557" y="425" width="11" height="10" fill="#eef5fc"/>
<rect x="568" y="425" width="10" height="10" fill="#e8f1fa"/>
<rect x="578" y="425" width="11" height="10" fill="#ecf4fb"/>
<rect x="589" y="425" width="10" height="10" fill="#e8f1fa"/>
<rect x="599" y="425" width="11" height="10" fill="#f6faff"/>
<rect x="610" y="425" width="10" height="10" fill="#d0e2f2"/>
<rect x="620" y="425" width="11" height="10" fill="#cadef0"/>
<rect x="631" y="425" width="10" height="10" fill="#e4eff9"/>
<rect x="557" y="435" width="11" height="11" fill="#ecf4fb"/>
<rect x="568" y="435" width="10" height="11" fill="#eef5fc"/>
<rect x="578" y="435" width="11" height="11" fill="#f5fafe"/>
<rect x="589" y="435" width="10" height="11" fill="#e8f1fa"/>
<rect x="599" y="435" width="11" height="11" fill="#f6faff"/>
<rect x="610" y="435" width="10" height="11" fill="#d0e2f2"/>
<rect x="620" y="435" width="11" height="11" fill="#bfd8ed"/>
<rect x="631" y="435" width="10" height="11" fill="#e1edf8"/>
<rect x="557" y="446" width="11" height="10" fill="#eff6fc"/>
<rect x="568" y="446" width="10" height="10" fill="#f0f6fd"/>
<rect x="578" y="446" width="11" height="10" fill="#f6faff"/>
<rect x="589" y="446" width="10" height="10" fill="#eaf2fb"/>
<rect x="599" y="446" width="11" height="10" fill="#f6faff"/>
<rect x="610" y="446" width="10" height="10" fill="#d2e3f3"/>
<rect x="620" y="446" width="11" height="10" fill="#d0e2f2"/>
<rect x="631" y="446" width="10" height="10" fill="#e4eff9"/>
<rect x="568" y="456" width="10" height="11" fill="#f2f8fd"/>
<rect x="578" y="456" width="11" height="11" fill="#eaf3fb"/>
<rect x="589" y="456" width="21" height="11" fill="#e8f2fa"/>
<rect x="610" y="456" width="10" height="11" fill="#dae8f6"/>
<rect x="620" y="456" width="11" height="11" fill="#e1edf8"/>
<rect x="631" y="456" width="10" height="11" fill="#e8f1fa"/>
<rect x="578" y="467" width="11" height="10" fill="#e9f2fb"/>
<rect x="589" y="467" width="10" height="10" fill="#e4eff9"/>
<rect x="599" y="467" width="11" height="10" fill="#e7f1fa"/>
<rect x="610" y="467" width="10" height="10" fill="#dae8f6"/>
<rect x="620" y="467" width="11" height="10" fill="#dceaf6"/>
<rect x="631" y="467" width="10" height="10" fill="#e7f1fa"/>
<rect x="589" y="477" width="10" height="11" fill="#eaf2fb"/>
<rect x="599" y="477" width="11" height="11" fill="#f0f6fd"/>
<rect x="610" y="477" width="10" height="11" fill="#dae8f6"/>
<rect x="620" y="477" width="11" height="11" fill="#e4eff9"/>
<rect x="631" y="477" width="10" height="11" fill="#e8f1fa"/>
<rect x="599" y="488" width="11" height="10" fill="#e4eff9"/>
<rect x="610" y="488" width="31" height="10" fill="#f6faff"/>
<rect x="610" y="498" width="10" height="11" fill="#cee0f2"/>
<rect x="620" y="498" width="11" height="11" fill="#b2d2e8"/>
<rect x="631" y="498" width="10" height="11" fill="#dae8f6"/>
<rect x="620" y="509" width="21" height="10" fill="#f6faff"/>
</g>
<path d="M165.5 60.50 v6.00 M165.5 540.50 v-6.00 M160.50 65.5 h6.00 M640.50 65.5 h-6.00 M176.5 60.50 v6.00 M176.5 540.50 v-6.00 M160.50 76.5 h6.00 M640.50 76.5 h-6.00 M186.5 60.50 v6.00 M186.5 540.50 v-6.00 M160.50 86.5 h6.00 M640.50 86.5 h-6.00 M197.5 60.50 v6.00 M197.5 540.50 v-6.00 M160.50 97.5 h6.00 M640.50 97.5 h-6.00 M207.5 60.50 v6.00 M207.5 540.50 v-6.00 M160.50 107.5 h6.00 M640.50 107.5 h-6.00 M217.5 60.50 v6.00 M217.5 540.50 v-6.00 M160.50 117.5 h6.00 M640.50 117.5 h-6.00 M228.5 60.50 v6.00 M228.5 540.50 v-6.00 M160.50 128.5 h6.00 M640.50 128.5 h-6.00 M238.5 60.50 v6.00 M238.5 540.50 v-6.00 M160.50 138.5 h6.00 M640.50 138.5 h-6.00 M249.5 60.50 v6.00 M249.5 540.50 v-6.00 M160.50 149.5 h6.00 M640.50 149.5 h-6.00 M259.5 60.50 v6.00 M259.5 540.50 v-6.00 M160.50 159.5 h6.00 M640.50 159.5 h-6.00 M270.5 60.50 v6.00 M270.5 540.50 v-6.00 M160.50 170.5 h6.00 M640.50 170.5 h-6.00 M280.5 60.50 v6.00 M280.5 540.50 v-6.00 M160.50 180.5 h6.00 M640.50 180.5 h-6.00 M290.5 60.50 v6.00 M290.5 540.50 v-6.00 M160.50 190.5 h6.00 M640.50 190.5 h-6.00 M301.5 60.50 v6.00 M301.5 540.50 v-6.00 M160.50 201.5 h6.00 M640.50 201.5 h-6.00 M311.5 60.50 v6.00 M311.5 540.50 v-6.00 M160.50 211.5 h6.00 M640.50 211.5 h-6.00 M322.5 60.50 v6.00 M322.5 540.50 v-6.00 M160.50 222.5 h6.00 M640.50 222.5 h-6.00 M332.5 60.50 v6.00 M332.5 540.50 v-6.00 M160.50 232.5 h6.00 M640.50 232.5 h-6.00 M343.5 60.50 v6.00 M343.5 540.50 v-6.00 M160.50 243.5 h6.00 M640.50 243.5 h-6.00 M353.5 60.50 v6.00 M353.5 540.50 v-6.00 M160.50 253.5 h6.00 M640.50 253.5 h-6.00 M363.5 60.50 v6.00 M363.5 540.50 v-6.00 M160.50 263.5 h6.00 M640.50 263.5 h-6.00 M374.5 60.50 v6.00 M374.5 540.50 v-6.00 M160.50 274.5 h6.00 M640.50 274.5 h-6.00 M384.5 60.50 v6.00 M384.5 540.50 v-6.00 M160.50 284.5 h6.00 M640.50 284.5 h-6.00 M395.5 60.50 v6.00 M395.5 540.50 v-6.00 M160.50 295.5 h6.00 M640.50 295.5 h-6.00 M405.5 60.50 v6.00 M405.5 540.50 v-6.00 M160.50 305.5 h6.00 M640.50 305.5 h-6.00 M416.5 60.50 v6.00 M416.5 540.50 v-6.00 M160.50 316.5 h6.00 M640.50 316.5 h-6.00 M426.5 60.50 v6.00 M426.5 540.50 v-6.00 M160.50 326.5 h6.00 M640.50 326.5 h-6.00 M437.5 60.50 v6.00 M437.5 540.50 v-6.00 M160.50 337.5 h6.00 M640.50 337.5 h-6.00 M447.5 60.50 v6.00 M447.5 540.50 v-6.00 M160.50 347.5 h6.00 M640.50 347.5 h-6.00 M457.5 60.50 v6.00 M457.5 540.50 v-6.00 M160.50 357.5 h6.00 M640.50 357.5 h-6.00 M468.5 60.50 v6.00 M468.5 540.50 v-6.00 M160.50 368.5 h6.00 M640.50 368.5 h-6.00 M478.5 60.50 v6.00 M478.5 540.50 v-6.00 M160.50 378.5 h6.00 M640.50 378.5 h-6.00 M489.5 60.50 v6.00 M489.5 540.50 v-6.00 M160.50 389.5 h6.00 M640.50 389.5 h-6.00 M499.5 60.50 v6.00 M499.5 540.50 v-6.00 M160.50 399.5 h6.00 M640.50 399.5 h-6.00 M510.5 60.50 v6.00 M510.5 540.50 v-6.00 M160.50 410.5 h6.00 M640.50 410.5 h-6.00 M520.5 60.50 v6.00 M520.5 540.50 v-6.00 M160.50 420.5 h6.00 M640.50 420.5 h-6.00 M530.5 60.50 v6.00 M530.5 540.50 v-6.00 M160.50 430.5 h6.00 M640.50 430.5 h-6.00 M541.5 60.50 v6.00 M541.5 540.50 v-6.00 M160.50 441.5 h6.00 M640.50 441.5 h-6.00 M551.5 60.50 v6.00 M551.5 540.50 v-6.00 M160.50 451.5 h6.00 M640.50 451.5 h-6.00 M562.5 60.50 v6.00 M562.5 540.50 v-6.00 M160.50 462.5 h6.00 M640.50 462.5 h-6.00 M572.5 60.50 v6.00 M572.5 540.50 v-6.00 M160.50 472.5 h6.00 M640.50 472.5 h-6.00 M583.5 60.50 v6.00 M583.5 540.50 v-6.00 M160.50 483.5 h6.00 M640.50 483.5 h-6.00 M593.5 60.50 v6.00 M593.5 540.50 v-6.00 M160.50 493.5 h6.00 M640.50 493.5 h-6.00 M603.5 60.50 v6.00 M603.5 540.50 v-6.00 M160.50 503.5 h6.00 M640.50 503.5 h-6.00 M614.5 60.50 v6.00 M614.5 540.50 v-6.00 M160.50 514.5 h6.00 M640.50 514.5 h-6.00 M624.5 60.50 v6.00 M624.5 540.50 v-6.00 M160.50 524.5 h6.00 M640.50 524.5 h-6.00 M635.5 60.50 v6.00 M635.5 540.50 v-6.00 M160.50 535.5 h6.00 M640.50 535.5 h-6.00" stroke="#000" stroke-opacity="0.72" stroke-width="1" fill="none"/>
<rect x="160.5" y="60.5" width="480" height="480" fill="none" stroke="#000" stroke-width="1.3"/>
<rect x="680" y="60" width="17" height="481" fill="url(#cb)"/>
<rect x="680.5" y="60.5" width="16" height="480" fill="none" stroke="#000" stroke-width="1.3"/>
<path d="M696.50 490.5 h-6.00 M696.50 440.5 h-6.00 M696.50 389.5 h-6.00 M696.50 339.5 h-6.00 M696.50 289.5 h-6.00 M696.50 239.5 h-6.00 M696.50 188.5 h-6.00 M696.50 138.5 h-6.00 M696.50 88.5 h-6.00" stroke="#000" stroke-opacity="0.72" stroke-width="1" fill="none"/>
<g style="filter:grayscale(1)"><text x="165.7" y="53.6" text-anchor="middle">C1'</text><text x="155.3" y="70.7" text-anchor="end">C1'</text><text x="217.9" y="53.6" text-anchor="middle">C4'</text><text x="155.3" y="122.9" text-anchor="end">C4'</text><text x="270.1" y="53.6" text-anchor="middle">N1</text><text x="155.3" y="175.9" text-anchor="end">N1</text><text x="322.2" y="53.6" text-anchor="middle">O2'</text><text x="155.3" y="227.2" text-anchor="end">O2'</text><text x="374.4" y="53.6" text-anchor="middle">OP1</text><text x="155.3" y="280.2" text-anchor="end">OP1</text><text x="426.6" y="53.6" text-anchor="middle">C2'</text><text x="155.3" y="331.6" text-anchor="end">C2'</text><text x="478.8" y="53.6" text-anchor="middle">C5'</text><text x="155.3" y="383.8" text-anchor="end">C5'</text><text x="530.9" y="53.6" text-anchor="middle">N3</text><text x="155.3" y="436.7" text-anchor="end">N3</text><text x="583.1" y="53.6" text-anchor="middle">O4'</text><text x="155.3" y="488.1" text-anchor="end">O4'</text><text x="635.3" y="53.6" text-anchor="middle">P</text><text x="155.3" y="541.1" text-anchor="end">P</text><text x="701.3" y="546.0" style="letter-spacing:0.7px">0.0</text><text x="701.3" y="495.8" style="letter-spacing:0.7px">0.5</text><text x="701.3" y="445.6" style="letter-spacing:0.7px">1.0</text><text x="701.3" y="395.4" style="letter-spacing:0.7px">1.5</text><text x="701.3" y="345.2" style="letter-spacing:0.7px">2.0</text><text x="701.3" y="295.0" style="letter-spacing:0.7px">2.5</text><text x="701.3" y="244.7" style="letter-spacing:0.7px">3.0</text><text x="701.3" y="194.5" style="letter-spacing:0.7px">3.5</text><text x="701.3" y="144.3" style="letter-spacing:0.7px">4.0</text><text x="701.3" y="94.1" style="letter-spacing:0.7px">4.5</text></g>
</svg></body></html>
